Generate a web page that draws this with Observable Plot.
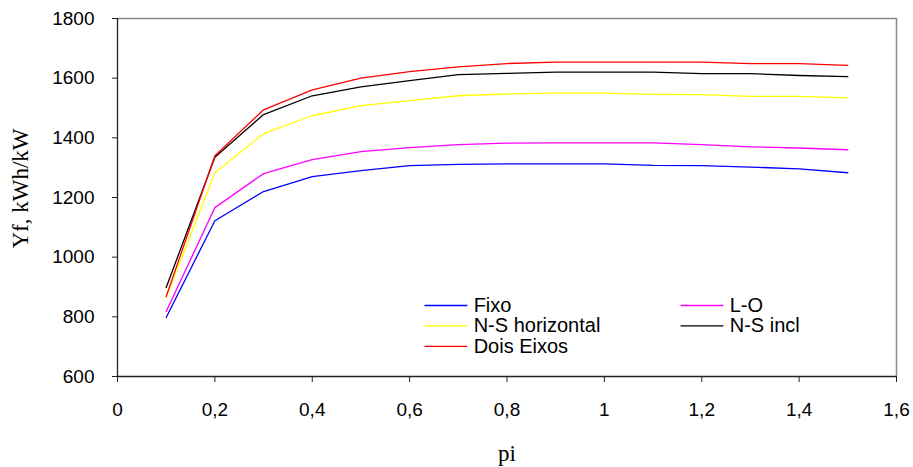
<!DOCTYPE html>
<html><head><meta charset="utf-8">
<script src="https://cdn.jsdelivr.net/npm/d3@7"></script>
<script src="https://cdn.jsdelivr.net/npm/@observablehq/plot@0.6"></script>
<style>body{margin:0;background:#fff}</style>
</head><body><div id="chart"></div>
<script>
const pi = [0.1, 0.2, 0.3, 0.4, 0.5, 0.6, 0.7, 0.8, 0.9, 1.0, 1.1, 1.2, 1.3, 1.4, 1.5];
const fixo = [798, 1122, 1220, 1270, 1290, 1307, 1311, 1313, 1313, 1313, 1308, 1307, 1302, 1296, 1283];
const lo = [818, 1166, 1280, 1327, 1354, 1367, 1377, 1382, 1383, 1383, 1383, 1377, 1370, 1366, 1360];
const nsHorizontal = [865, 1283, 1414, 1474, 1508, 1525, 1541, 1547, 1550, 1550, 1546, 1545, 1539, 1539, 1534];
const nsIncl = [898, 1335, 1478, 1541, 1571, 1592, 1612, 1616, 1620, 1620, 1620, 1615, 1615, 1609, 1605];
const doisEixos = [868, 1340, 1494, 1561, 1600, 1622, 1638, 1649, 1654, 1654, 1654, 1654, 1649, 1649, 1643];

const seriesNames = ["Fixo", "L-O", "N-S horizontal", "N-S incl", "Dois Eixos"];
const seriesColors = ["#0000ff", "#ff00ff", "#ffff00", "#000000", "#ff0000"];
const xTicks = [0, 0.2, 0.4, 0.6, 0.8, 1, 1.2, 1.4, 1.6];
const yTicks = [600, 800, 1000, 1200, 1400, 1600, 1800];

const seriesValues = [fixo, lo, nsHorizontal, nsIncl, doisEixos];
const rows = seriesNames.flatMap((name, i) => pi.map((p, j) => ({series: name, pi: p, yf: seriesValues[i][j]})));

// legend layout (in data units)
const LX0 = 0.6305, LCOL = 0.526, LLEN = 0.088, LGAP = 0.013, LY0 = 838, LROW = 68.5;
const legendRows = seriesNames.map((name, i) => ({name, col: i % 2, row: Math.floor(i / 2)}));
const lx1 = d => LX0 + d.col * LCOL;
const ly = d => LY0 - d.row * LROW;

const sans = "'Liberation Sans', Arial, sans-serif";
const serif = "'Liberation Serif', 'Times New Roman', serif";

const chart = Plot.plot({
  width: 913,
  height: 467,
  marginLeft: 117,
  marginRight: 17,
  marginTop: 18,
  marginBottom: 91,
  style: {fontFamily: sans, background: "white", color: "black"},
  x: {domain: [0, 1.6]},
  y: {domain: [600, 1800]},
  color: {domain: seriesNames, range: seriesColors},
  marks: [
    Plot.ruleY([1800], {stroke: "#8a8a8a", strokeWidth: 1.5}),
    Plot.ruleX([1.6], {stroke: "#8a8a8a", strokeWidth: 1.5}),
    Plot.ruleX([0], {stroke: "#222", strokeWidth: 1.3}),
    Plot.ruleY([600], {stroke: "#222", strokeWidth: 1.3}),
    Plot.axisY({ticks: yTicks, tickFormat: d => String(d), tickSize: 5, tickPadding: 18, fontSize: 19, fontFamily: sans, label: null, stroke: "#222"}),
    Plot.axisX({ticks: xTicks, tickFormat: d => String(d).replace(".", ","), tickSize: 6, tickPadding: 20, fontSize: 19, fontFamily: sans, label: null, stroke: "#222"}),
    Plot.line(rows, {x: "pi", y: "yf", z: "series", stroke: "series", strokeWidth: 1.3}),
    Plot.link(legendRows, {x1: lx1, x2: d => lx1(d) + LLEN, y1: ly, y2: ly, stroke: "name", strokeWidth: 1.3}),
    Plot.text(legendRows, {x: d => lx1(d) + LLEN + LGAP, y: ly, text: "name", textAnchor: "start", lineAnchor: "middle", fontSize: 20, fontFamily: sans, fill: "black"}),
    Plot.text(["pi"], {frameAnchor: "bottom", textAnchor: "middle", lineAnchor: "bottom", dy: 84, fontSize: 23, fontFamily: serif, fill: "black"}),
    Plot.text(["Yf, kWh/kW"], {frameAnchor: "left", textAnchor: "middle", rotate: -90, lineAnchor: "middle", dx: -97, dy: -9, fontSize: 23, fontFamily: serif, fill: "black"})
  ]
});
document.getElementById("chart").appendChild(chart);
</script>
</body></html>
